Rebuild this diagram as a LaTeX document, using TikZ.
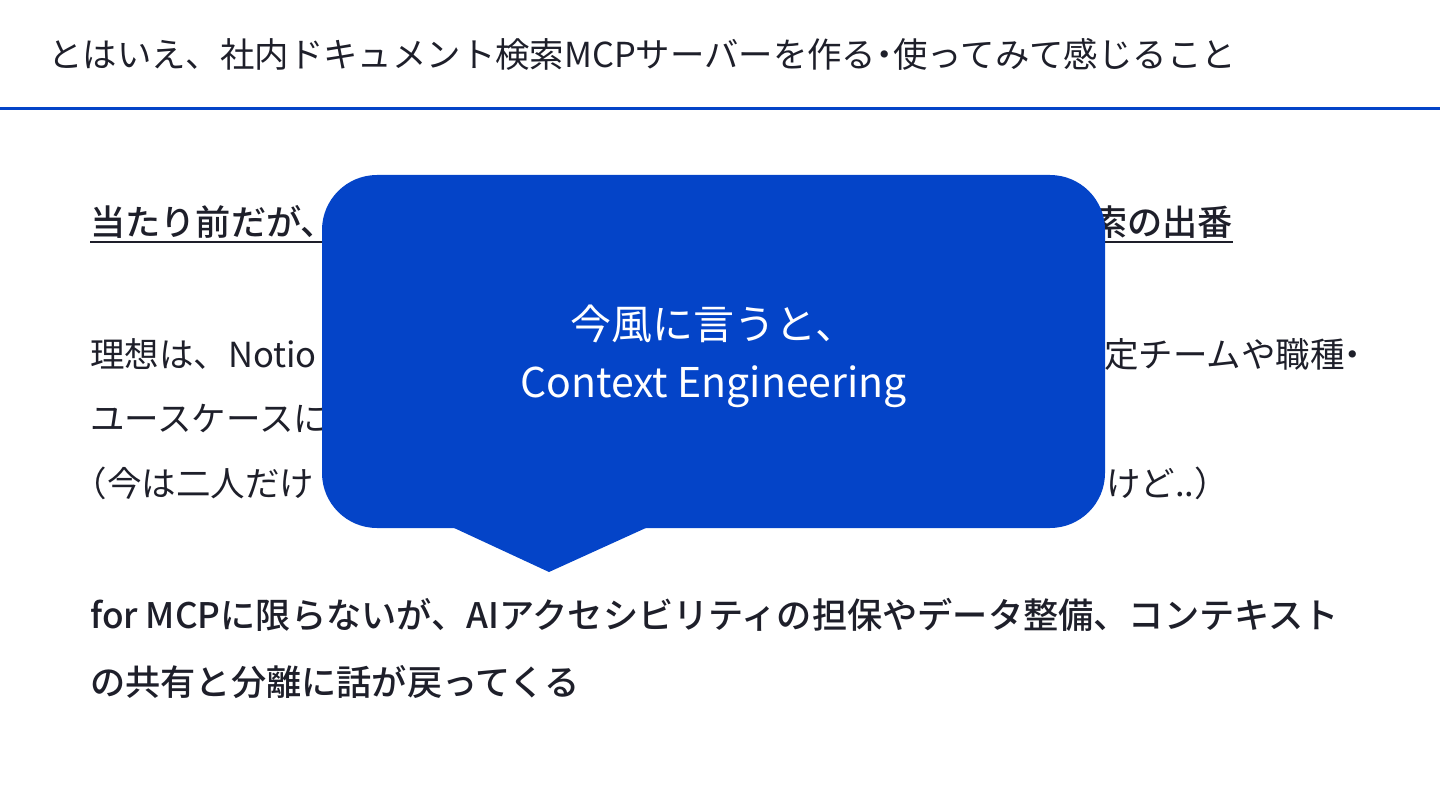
\documentclass[tikz,border=0pt]{standalone}
\usepackage{fontspec}
\setmainfont{Noto Sans CJK JP}[BoldFont={* Medium}]
\usetikzlibrary{positioning}
\definecolor{slideblue}{RGB}{4, 68, 200}
\definecolor{inkdark}{RGB}{30, 31, 42}
\newcommand{\halfw}[1]{{\addfontfeature{RawFeature=+halt}#1}}

\begin{document}
\begin{tikzpicture}[
        x=1pt, y=-1pt,
        heading/.style={anchor=base west, inner sep=0pt, text=inkdark, font=\fontsize{34.4}{40}\selectfont},
        body/.style={anchor=base west, inner sep=0pt, text=inkdark, font=\fontsize{34.5}{40}\selectfont},
        bodyend/.style={body, anchor=base east},
        strong/.style={body, font=\fontsize{35.2}{40}\selectfont\bfseries},
        strongend/.style={strong, anchor=base east},
        bubble/.style={rectangle, fill=slideblue, rounded corners=55pt, minimum width=783pt, minimum height=353pt, inner sep=0pt},
        bubbletext/.style={align=center, text=white, inner sep=0pt, font=\fontsize{41}{58}\selectfont},
    ]
        \useasboundingbox (0,0) rectangle (1440,810);

        % Title
        \node[heading] (title) at (48,68) {とはいえ、社内ドキュメント検索MCPサーバーを作る\halfw{・}使ってみて感じること};
        \draw[slideblue, line width=3.5pt] (0,108.5) -- (1440,108.5);

        % Body
        \node[strong] (lead) at (90,236) {当たり前だが、};
        \node[strongend] (leadend) at (1233,236) {索の出番};
        \draw[inkdark, line width=2pt] (90,242.5) -- (1233,242.5);
        \node[body] (ideal) at (90,367) {理想は、Notio};
        \node[bodyend] (idealend) at (1362,367) {定チームや職種\halfw{・}};
        \node[body] (usecase) at (90,431) {ユースケースに};
        \node[body] (note) at (90,496) {\halfw{（}今は二人だけ};
        \node[bodyend] (noteend) at (1212,496) {けど..\halfw{）}};
        \node[strong] (point) at (90,628) {for MCPに限らないが、AIアクセシビリティの担保やデータ整備、コンテキスト};
        \node[strong] (pointb) at (90,695) {の共有と分離に話が戻ってくる};

        % Callout
        \node[bubble] (callout) at (713.5,351.5) {};
        \node[bubbletext] (calloutlabel) at ([yshift=-5pt]callout.center) {今風に言うと、\\Context Engineering};
        \coordinate (tip) at (549,572);
        \fill[slideblue] (452,527) -- (tip) -- (648,527) -- cycle;
    \end{tikzpicture}
\end{document}
